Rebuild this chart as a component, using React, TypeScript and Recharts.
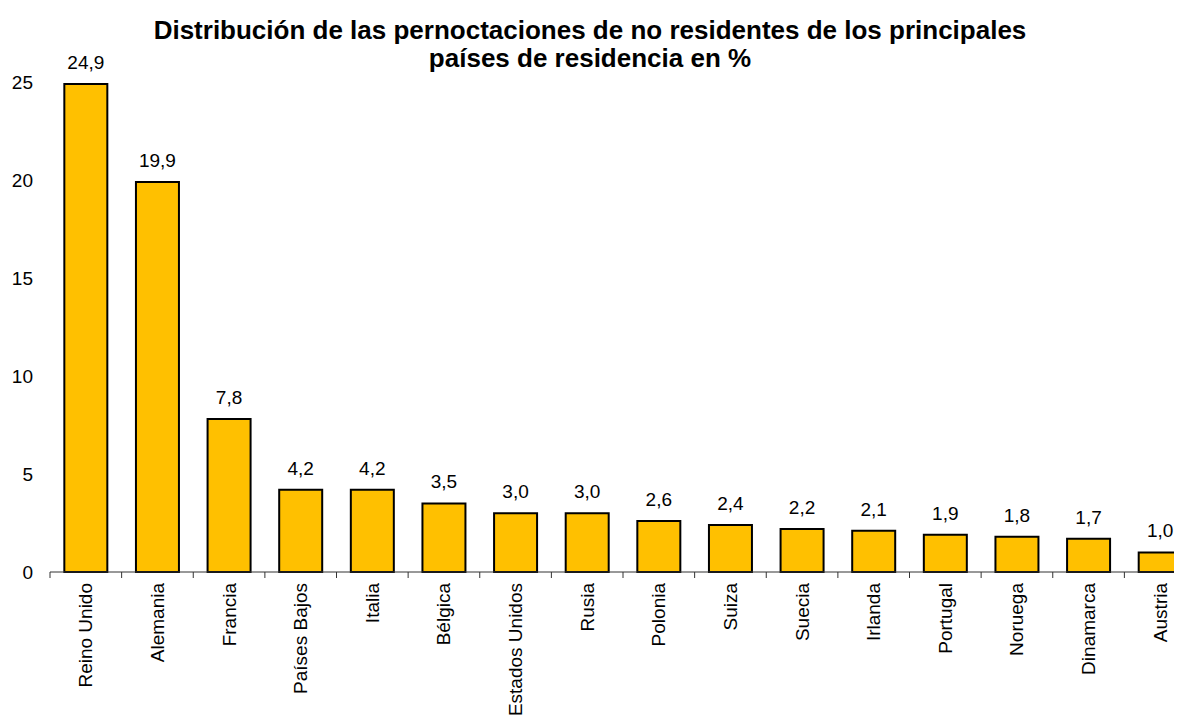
import { BarChart, Bar, XAxis, YAxis, LabelList } from "recharts";

const countries = [
  "Reino Unido",
  "Alemania",
  "Francia",
  "Países Bajos",
  "Italia",
  "Bélgica",
  "Estados Unidos",
  "Rusia",
  "Polonia",
  "Suiza",
  "Suecia",
  "Irlanda",
  "Portugal",
  "Noruega",
  "Dinamarca",
  "Austria",
];
const shares = [24.9, 19.9, 7.8, 4.2, 4.2, 3.5, 3.0, 3.0, 2.6, 2.4, 2.2, 2.1, 1.9, 1.8, 1.7, 1.0];
const yTicks = [0, 5, 10, 15, 20, 25];

const data = countries.map((name, i) => ({ name, value: shares[i] }));

const W = 1200;
const H = 707;
const Y_AXIS_W = 42;
const MARGIN_RIGHT = 12;
const band = (W - Y_AXIS_W - MARGIN_RIGHT) / countries.length;
const font = "Arial, 'Liberation Sans', sans-serif";

const fmt = (v: number) => v.toFixed(1).replace(".", ",");

const CountryTick = (props: any) => {
  const { x, y, payload } = props;
  const bx = x - band / 2;
  return (
    <g>
      <line x1={bx} y1={y} x2={bx} y2={y + 6} stroke="#333" strokeWidth={1} />
      <text
        transform={`translate(${x},${y + 11}) rotate(-90)`}
        textAnchor="end"
        dominantBaseline="central"
        fontSize={19}
        fontFamily={font}
        fill="#000"
      >
        {payload.value}
      </text>
    </g>
  );
};

export default function App() {
  return (
    <div style={{ width: 1174, height: H, overflow: "hidden", position: "relative", fontFamily: font }}>
      <div
        style={{
          position: "absolute",
          left: 0,
          width: 1164,
          top: 8,
          textAlign: "center",
          fontWeight: "bold",
          fontSize: 26,
          lineHeight: "28px",
          color: "#000",
          whiteSpace: "nowrap",
        }}
      >
        Distribución de las pernoctaciones de no residentes de los principales
        <br />
        países de residencia en %
      </div>
      <BarChart
        width={W}
        height={H}
        data={data}
        margin={{ top: 74, right: MARGIN_RIGHT, bottom: 0, left: 0 }}
        barCategoryGap="20%"
      >
        <XAxis
          dataKey="name"
          interval={0}
          height={143}
          tickLine={false}
          tickSize={0}
          tickMargin={0}
          axisLine={{ stroke: "#333", strokeWidth: 1 }}
          tick={<CountryTick />}
        />
        <YAxis
          width={Y_AXIS_W}
          domain={[0, 25]}
          ticks={yTicks}
          axisLine={false}
          tickLine={false}
          tickSize={0}
          tickMargin={17}
          tick={{ fontSize: 19, fill: "#000", fontFamily: font }}
        />
        <Bar dataKey="value" fill="#FFC000" stroke="#000" strokeWidth={2} isAnimationActive={false}>
          <LabelList
            dataKey="value"
            position="top"
            offset={15}
            formatter={(v: any) => fmt(Number(v))}
            style={{ fontSize: 19, fill: "#000", fontFamily: font }}
          />
        </Bar>
      </BarChart>
    </div>
  );
}
